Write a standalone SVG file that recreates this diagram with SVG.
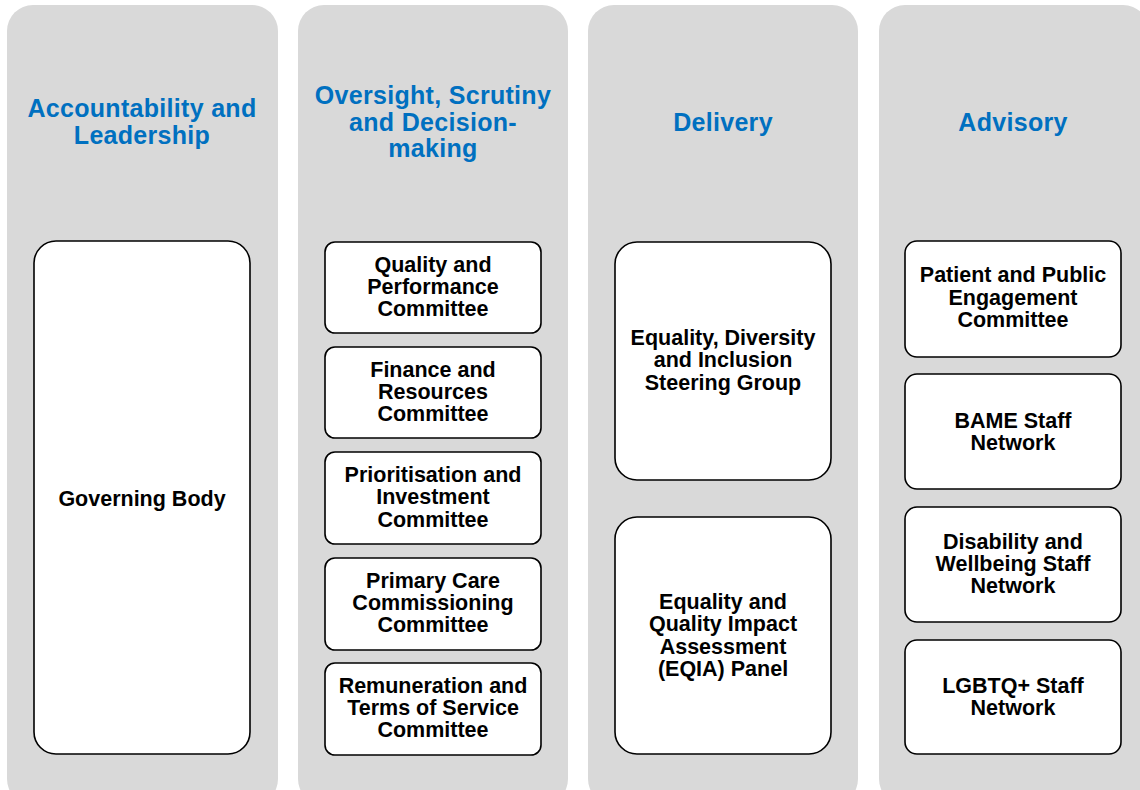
<svg xmlns="http://www.w3.org/2000/svg" width="1140" height="790" viewBox="0 0 1140 790">
  <style>
    .panel { fill: #D9D9D9; }
    .box { fill: #FFFFFF; stroke: #000000; stroke-width: 1.6; }
    .head { font-family: "Liberation Sans", Arial, sans-serif; font-weight: bold; font-size: 25px; letter-spacing: 0.3px; fill: #0070C0; text-anchor: middle; }
    .lbl { font-family: "Liberation Sans", Arial, sans-serif; font-weight: bold; font-size: 21.5px; fill: #000000; text-anchor: middle; }
  </style>

  <!-- column panels -->
  <g id="panels">
    <rect class="panel" x="7" y="5" width="271" height="800" rx="26"/>
    <rect class="panel" x="298" y="5" width="270" height="800" rx="26"/>
    <rect class="panel" x="588" y="5" width="270" height="800" rx="26"/>
    <rect class="panel" x="879" y="5" width="270" height="800" rx="26"/>
  </g>

  <!-- column headings -->
  <g id="headings">
    <text class="head" x="142" y="117">Accountability and</text>
    <text class="head" x="142" y="144">Leadership</text>
    <text class="head" x="433" y="104">Oversight, Scrutiny</text>
    <text class="head" x="433" y="131">and Decision-</text>
    <text class="head" x="433" y="157">making</text>
    <text class="head" x="723" y="131">Delivery</text>
    <text class="head" x="1013" y="131">Advisory</text>
  </g>

  <!-- Accountability and Leadership -->
  <g id="governing-body">
    <rect class="box" x="34" y="241" width="216" height="513" rx="22"/>
    <text class="lbl" x="142" y="506">Governing Body</text>
  </g>

  <!-- Oversight, Scrutiny and Decision-making -->
  <g id="quality-performance">
    <rect class="box" x="325" y="242" width="216" height="91" rx="10"/>
    <text class="lbl" x="433" y="272">Quality and</text>
    <text class="lbl" x="433" y="294">Performance</text>
    <text class="lbl" x="433" y="316">Committee</text>
  </g>
  <g id="finance-resources">
    <rect class="box" x="325" y="347" width="216" height="91" rx="10"/>
    <text class="lbl" x="433" y="377">Finance and</text>
    <text class="lbl" x="433" y="399">Resources</text>
    <text class="lbl" x="433" y="421">Committee</text>
  </g>
  <g id="prioritisation-investment">
    <rect class="box" x="325" y="452" width="216" height="92" rx="10"/>
    <text class="lbl" x="433" y="482">Prioritisation and</text>
    <text class="lbl" x="433" y="504">Investment</text>
    <text class="lbl" x="433" y="527">Committee</text>
  </g>
  <g id="primary-care">
    <rect class="box" x="325" y="558" width="216" height="92" rx="10"/>
    <text class="lbl" x="433" y="588">Primary Care</text>
    <text class="lbl" x="433" y="610">Commissioning</text>
    <text class="lbl" x="433" y="632">Committee</text>
  </g>
  <g id="remuneration">
    <rect class="box" x="325" y="663" width="216" height="92" rx="10"/>
    <text class="lbl" x="433" y="693">Remuneration and</text>
    <text class="lbl" x="433" y="715">Terms of Service</text>
    <text class="lbl" x="433" y="737">Committee</text>
  </g>

  <!-- Delivery -->
  <g id="edi-steering">
    <rect class="box" x="615" y="242" width="216" height="238" rx="22"/>
    <text class="lbl" x="723" y="345">Equality, Diversity</text>
    <text class="lbl" x="723" y="367">and Inclusion</text>
    <text class="lbl" x="723" y="390">Steering Group</text>
  </g>
  <g id="eqia-panel">
    <rect class="box" x="615" y="517" width="216" height="237" rx="22"/>
    <text class="lbl" x="723" y="609">Equality and</text>
    <text class="lbl" x="723" y="631">Quality Impact</text>
    <text class="lbl" x="723" y="654">Assessment</text>
    <text class="lbl" x="723" y="676">(EQIA) Panel</text>
  </g>

  <!-- Advisory -->
  <g id="ppe-committee">
    <rect class="box" x="905" y="241" width="216" height="116" rx="12"/>
    <text class="lbl" x="1013" y="282">Patient and Public</text>
    <text class="lbl" x="1013" y="305">Engagement</text>
    <text class="lbl" x="1013" y="327">Committee</text>
  </g>
  <g id="bame-network">
    <rect class="box" x="905" y="374" width="216" height="115" rx="12"/>
    <text class="lbl" x="1013" y="428">BAME Staff</text>
    <text class="lbl" x="1013" y="450">Network</text>
  </g>
  <g id="disability-network">
    <rect class="box" x="905" y="507" width="216" height="115" rx="12"/>
    <text class="lbl" x="1013" y="549">Disability and</text>
    <text class="lbl" x="1013" y="571">Wellbeing Staff</text>
    <text class="lbl" x="1013" y="593">Network</text>
  </g>
  <g id="lgbtq-network">
    <rect class="box" x="905" y="640" width="216" height="114" rx="12"/>
    <text class="lbl" x="1013" y="693">LGBTQ+ Staff</text>
    <text class="lbl" x="1013" y="715">Network</text>
  </g>

  <!-- no connectors in this chart -->
  <g id="connectors"/>
</svg>
